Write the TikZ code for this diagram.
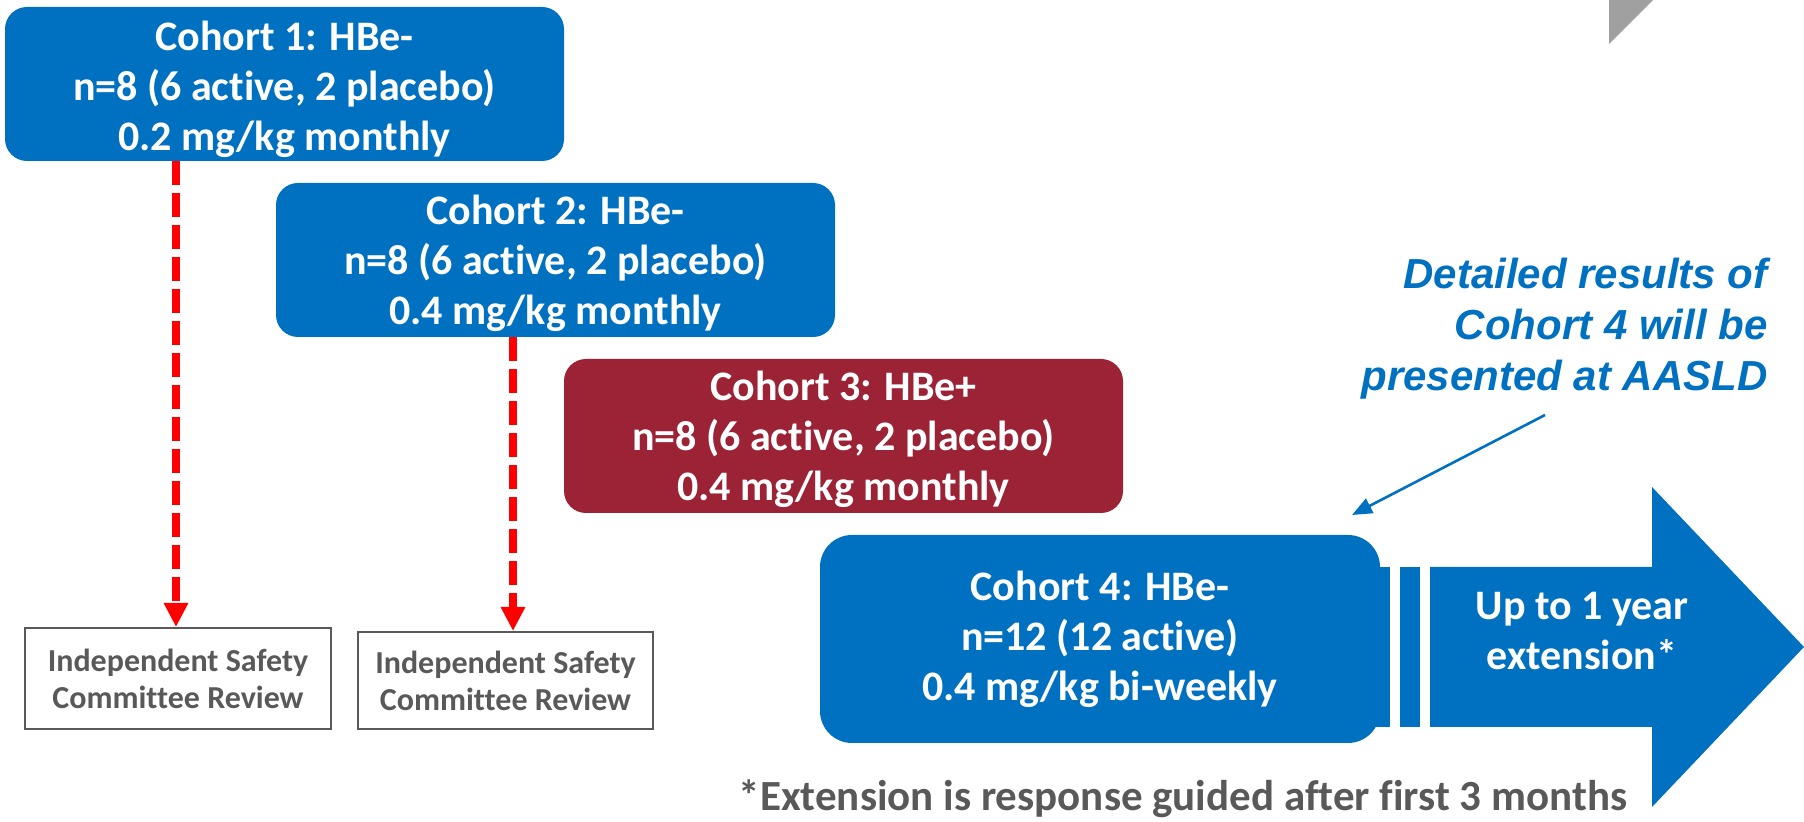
\documentclass[tikz,border=0pt]{standalone}
\usepackage{fontspec}
\setmainfont[Ligatures=NoCommon]{Carlito}
\newfontfamily\arialfont{Liberation Sans}
\usetikzlibrary{arrows.meta}
\definecolor{cblue}{RGB}{0,112,192}
\definecolor{cred}{RGB}{156,34,53}
\definecolor{tgray}{RGB}{89,89,89}
\definecolor{trigray}{RGB}{160,160,160}
\newcommand{\toppush}[1]{\rule{0pt}{#1}}
\begin{document}
\begin{tikzpicture}[x=0.5pt,y=-0.5pt,
  cohort/.style={rounded corners=11pt, minimum width=279.5pt, minimum height=77pt, text=white,
    font=\fontsize{21}{25}\selectfont\bfseries, align=center, inner sep=0pt},
  review/.style={draw=tgray, line width=1pt, text=tgray,
    font=\fontsize{16}{18.5}\selectfont\bfseries, align=center, inner sep=0pt},
  reddash/.style={red, line width=4pt, dash pattern=on 12pt off 4pt,
    -{Triangle[width=11.5pt,length=12pt]}}]
\useasboundingbox (0,0) rectangle (1804,822);

% grey corner triangle
\fill[trigray] (1609,0) -- (1653,0) -- (1609,44) -- cycle;

% cohort boxes
\node[cohort, fill=cblue] (c1) at (284.5,84) {\toppush{20.5pt}Cohort 1: HBe-\\n=8 (6 active, 2 placebo)\\0.2 mg/kg monthly};
\node[cohort, fill=cblue] (c2) at (555.5,260) {\toppush{18pt}Cohort 2: HBe-\\n=8 (6 active, 2 placebo)\\0.4 mg/kg monthly};
\node[cohort, fill=cred] (c3) at (843.5,436) {\toppush{18pt}Cohort 3: HBe+\\n=8 (6 active, 2 placebo)\\0.4 mg/kg monthly};

% review boxes
\node[review, minimum width=153pt, minimum height=50.5pt] (r1) at (178,678.5) {Independent Safety\\Committee Review};
\node[review, minimum width=147.5pt, minimum height=48.5pt] (r2) at (505.5,680.5) {Independent Safety\\Committee Review};

% red dashed connectors
\coordinate (l1) at (176,0);
\coordinate (l2) at (513,0);
\draw[reddash] (c1.south -| l1) -- (r1.north -| l1);
\draw[reddash] (c2.south -| l2) -- (r2.north -| l2);

% extension arrow
\fill[cblue] (1370,567) rectangle (1390,727);
\fill[cblue] (1400,567) rectangle (1420,727);
\fill[cblue] (1430,567) -- (1652,567) -- (1652,487) -- (1804,647) -- (1652,807) -- (1652,727) -- (1430,727) -- cycle;
\node[cohort, fill=cblue, minimum width=280pt, minimum height=104pt, rounded corners=16pt] (c4) at (1100,639) {Cohort 4: HBe-\\n=12 (12 active)\\0.4 mg/kg bi-weekly};
\node[text=white, font=\fontsize{21}{25}\selectfont\bfseries, align=center, inner sep=0pt] (ext) at (1582,631) {Up to 1 year\\extension*};

% annotation
\node[anchor=east, text=cblue, font=\arialfont\fontsize{21}{25.5}\selectfont\bfseries\itshape, align=right, inner sep=0pt] (note) at (1768,329) {Detailed results of\\Cohort 4 will be\\presented at AASLD};
\coordinate (a1) at (1545,415);
\coordinate (a2) at (1352,515);
\draw[cblue, line width=1.3pt, -{Triangle[width=8pt,length=10pt]}] (a1) -- (a2);

% footnote
\node[text=tgray, font=\fontsize{21.5}{25}\selectfont\bfseries, inner sep=0pt] (foot) at (1183,799) {*Extension is response guided after first 3 months};
\end{tikzpicture}
\end{document}
